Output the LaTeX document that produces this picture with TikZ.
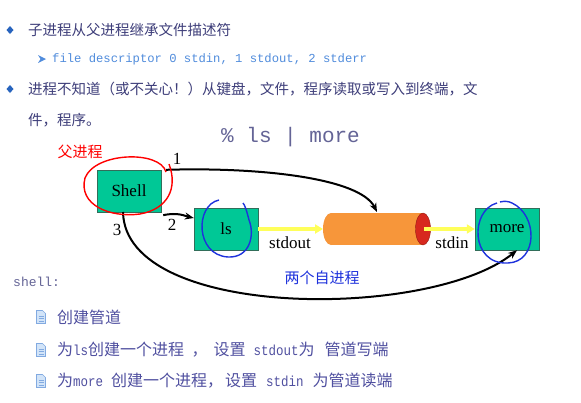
\documentclass[tikz,border=0pt]{standalone}
\usepackage{fontspec}
\setmainfont{Liberation Serif}
\newfontfamily\cjk{Noto Sans CJK SC}
\newfontfamily\monof{Liberation Mono}
\newfontfamily\monon[FakeStretch=0.86]{Liberation Mono}
\usetikzlibrary{arrows.meta}
\definecolor{bodytxt}{RGB}{62,62,122}
\definecolor{itemtxt}{RGB}{80,80,160}
\definecolor{lightblue}{RGB}{80,140,220}
\definecolor{cmdtxt}{RGB}{100,100,150}
\definecolor{bulletblue}{RGB}{40,100,190}
\definecolor{procfill}{RGB}{0,200,150}
\definecolor{procdraw}{RGB}{50,110,90}
\definecolor{pipeorange}{RGB}{247,150,58}
\definecolor{pipered}{RGB}{215,40,30}
\definecolor{flowyellow}{RGB}{255,255,90}
\definecolor{annblue}{RGB}{30,50,220}
\definecolor{iconfill}{RGB}{210,228,248}
\definecolor{icondraw}{RGB}{130,170,225}
\tikzset{
  body/.style={anchor=west, inner sep=0pt, text=bodytxt, font=\cjk\fontsize{14.5}{17}\selectfont},
  item/.style={anchor=west, inner sep=0pt, text=itemtxt, font=\cjk\fontsize{16}{18}\selectfont},
  procbox/.style={draw=procdraw, fill=procfill, minimum width=64pt, minimum height=42pt, inner sep=0pt, font=\fontsize{17}{20}\selectfont},
  numlbl/.style={inner sep=0pt, font=\fontsize{17}{20}\selectfont},
  conn/.style={line width=2pt, -{Stealth[length=9pt,width=7pt]}},
  flow/.style={draw=flowyellow, line width=3.5pt, -{Triangle[length=8pt,width=9pt]}},
  circ/.style={line width=1.4pt},
}
\newcommand{\bulletdia}[2]{\fill[bulletblue] (#1,#2-4) -- (#1+3.5,#2) -- (#1,#2+4) -- (#1-3.5,#2) -- cycle;}
\newcommand{\docicon}[2]{%
  \draw[icondraw, fill=iconfill, line width=0.6pt] (#1-4.5,#2-6.5) -- (#1+1.5,#2-6.5) -- (#1+4.5,#2-3.5) -- (#1+4.5,#2+6.5) -- (#1-4.5,#2+6.5) -- cycle;
  \draw[icondraw, line width=0.5pt] (#1-2.5,#2-1) -- (#1+2.5,#2-1) (#1-2.5,#2+1.5) -- (#1+2.5,#2+1.5) (#1-2.5,#2+4) -- (#1+2.5,#2+4);}
\newcommand{\lat}[1]{{\monon\fontsize{14.5}{18}\selectfont #1}}
\begin{document}
\begin{tikzpicture}[x=1pt,y=-1pt]
\useasboundingbox[fill=white] (0,0) rectangle (581,402);

% header bullets
\bulletdia{10}{30}
\node[body] (t1) at (28,30) {子进程从父进程继承文件描述符};
\fill[lightblue] (38,55) -- (46,59) -- (38,63) -- (40.5,59) -- cycle;
\node[anchor=west, inner sep=0pt, text=lightblue, font=\monof\fontsize{12.2}{14}\selectfont] (t1a) at (52,59) {file descriptor 0 stdin, 1 stdout, 2 stderr};
\bulletdia{10}{89}
\node[body] (t2) at (28,89) {进程不知道（或不关心！）从键盘，文件，程序读取或写入到终端，文};
\node[body] (t2b) at (28,120) {件，程序。};
\node[anchor=west, inner sep=0pt, text=cmdtxt, font=\monof\fontsize{21}{24}\selectfont] (cmd) at (221,137) {\% ls | more};

% processes
\node[procbox] (shell) at (129,191) {Shell};
\node[procbox] (ls) at (226,229) {ls};
\node[procbox] (more) at (507,229) {more};

% pipe
\fill[pipeorange] (331,213) rectangle (423,245);
\fill[pipeorange] (331,229) ellipse [x radius=8, y radius=16];
\fill[pipered] (423,229) ellipse [x radius=7.5, y radius=16];
\draw[pipered!70!black, line width=0.4pt] (423,229) ellipse [x radius=7.5, y radius=16];
\coordinate (pipein) at (323,229);
\coordinate (pipeout) at (424,229);
\coordinate (pipetop) at (377,212);

% flows
\draw[flow] (ls.east) -- (pipein);
\draw[flow] (pipeout) -- (more.west);
\node[numlbl, anchor=north] (so) at (290,236) {stdout};
\node[numlbl, anchor=north] (si) at (452,236) {stdin};

% connectors from shell
\draw[conn] (shell.north east) ++(5,0) coordinate (s1) .. controls (260,167) and (360,178) .. (pipetop);
\draw[conn] ([xshift=2pt,yshift=-3pt]shell.south east) .. controls (178,212) and (185,216) .. (ls.west |- 0,218);
\draw[conn] (123,212) .. controls (125,320) and (430,320) .. ([xshift=10pt]more.south);
\node[numlbl] (n1) at (177,159) {1};
\node[numlbl] (n2) at (172,225) {2};
\node[numlbl] (n3) at (117,230) {3};

% annotations
\node[inner sep=0pt, text=red, font=\cjk\fontsize{15}{17}\selectfont] (fu) at (80,152) {父进程};
\draw[red, circ] (166,172) .. controls (160,150) and (95,152) .. (85,178) .. controls (78,205) and (110,218) .. (140,214) .. controls (168,209) and (178,188) .. (169,164);
\draw[annblue, circ] (219,200) .. controls (195,205) and (195,255) .. (228,257) .. controls (250,258) and (255,235) .. (249,220) .. controls (247,212) and (245,205) .. (243,203);
\draw[annblue, circ] (497,203) .. controls (470,210) and (470,265) .. (508,263) .. controls (538,262) and (538,215) .. (512,203) .. controls (508,201) and (504,201) .. (500,202);
\node[inner sep=0pt, text=annblue, font=\cjk\fontsize{15}{17}\selectfont] (two) at (322,278) {两个自进程};

% shell steps
\node[anchor=west, inner sep=0pt, text=cmdtxt, font=\monof\fontsize{13}{15}\selectfont] (sh) at (13,282) {shell:};
\docicon{41}{317}
\node[item] (s1t) at (57,317) {创建管道};
\docicon{41}{350}
\node[item] (s2t) at (57,350) {为\lat{ls}创建一个进程\hspace{7.5pt}，\hspace{6pt}设置\hspace{8pt}\lat{stdout}为\hspace{10pt}管道写端};
\docicon{41}{381}
\node[item] (s3t) at (57,381) {为\lat{more}\hspace{8pt}创建一个进程，\hspace{2pt}设置\hspace{9pt}\lat{stdin}\hspace{9pt}为管道读端};
\end{tikzpicture}
\end{document}
